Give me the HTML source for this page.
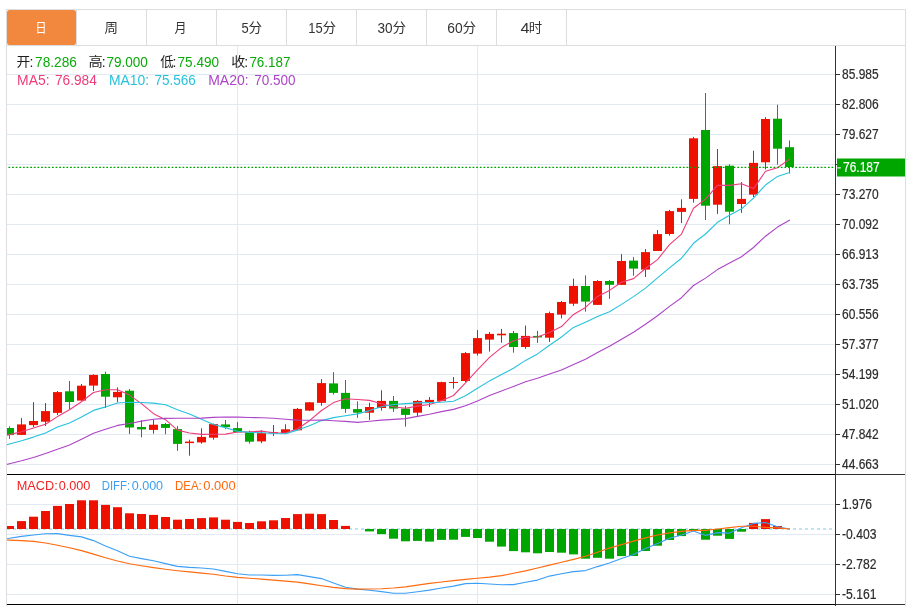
<!DOCTYPE html>
<html lang="zh-CN"><head><meta charset="utf-8"><title>K线图</title>
<style>
html,body{margin:0;padding:0;background:#fff;}
body{width:910px;height:606px;overflow:hidden;position:relative;font-family:"Liberation Sans", "Noto Sans CJK SC", sans-serif;}
svg{position:absolute;left:0;top:0;display:block;}
svg text{font-family:"Liberation Sans", "Noto Sans CJK SC", sans-serif;}
.g{stroke:#e1eaf3;stroke-width:1;shape-rendering:crispEdges;}
.r{fill:#ee1100;stroke:#ee1100;}
.gr{fill:#00a600;stroke:#00a600;}
.w{stroke-width:1;fill:none;}
.l{fill:none;stroke-width:1.1;stroke-linejoin:round;stroke-linecap:round;}
.ax{font-size:14px;}
.tab{font-size:13.5px;fill:#333;text-anchor:middle;}
.t14{font-size:14px;}
</style></head><body>
<svg width="910" height="606" viewBox="0 0 910 606">
<rect x="0" y="0" width="910" height="606" fill="#ffffff"/>
<g shape-rendering="crispEdges">
<rect x="6" y="9" width="900" height="1" fill="#dddddd"/>
<rect x="6" y="9" width="1" height="597" fill="#dddddd"/>
<rect x="905" y="9" width="1" height="597" fill="#dddddd"/>
<rect x="7" y="45" width="898" height="1" fill="#dddddd"/>
<rect x="76" y="10" width="1" height="35" fill="#dddddd"/>
<rect x="146" y="10" width="1" height="35" fill="#dddddd"/>
<rect x="216" y="10" width="1" height="35" fill="#dddddd"/>
<rect x="286" y="10" width="1" height="35" fill="#dddddd"/>
<rect x="356" y="10" width="1" height="35" fill="#dddddd"/>
<rect x="426" y="10" width="1" height="35" fill="#dddddd"/>
<rect x="496" y="10" width="1" height="35" fill="#dddddd"/>
<rect x="566" y="10" width="1" height="35" fill="#dddddd"/>
</g>
<rect x="7" y="10" width="69" height="35" rx="2.5" ry="2.5" fill="#f2883d"/>
<text><tspan x="35.55" y="32.00" fill="#fff" font-size="13.0" textLength="11.00" lengthAdjust="spacingAndGlyphs">日</tspan></text>
<text><tspan x="104.55" y="32.00" fill="#333" font-size="13.0" textLength="13.50" lengthAdjust="spacingAndGlyphs">周</tspan></text>
<text><tspan x="174.55" y="32.00" fill="#333" font-size="13.0" textLength="12.00" lengthAdjust="spacingAndGlyphs">月</tspan></text>
<text><tspan x="241.40" y="33.00" fill="#333" font-size="14" textLength="7.20" lengthAdjust="spacingAndGlyphs">5</tspan><tspan x="248.45" y="32.00" fill="#333" font-size="13.0" textLength="13.60" lengthAdjust="spacingAndGlyphs">分</tspan></text>
<text><tspan x="308.20" y="33.00" fill="#333" font-size="14" textLength="14.40" lengthAdjust="spacingAndGlyphs">15</tspan><tspan x="322.45" y="32.00" fill="#333" font-size="13.0" textLength="13.60" lengthAdjust="spacingAndGlyphs">分</tspan></text>
<text><tspan x="377.50" y="33.00" fill="#333" font-size="14" textLength="15.10" lengthAdjust="spacingAndGlyphs">30</tspan><tspan x="392.45" y="32.00" fill="#333" font-size="13.0" textLength="13.60" lengthAdjust="spacingAndGlyphs">分</tspan></text>
<text><tspan x="447.20" y="33.00" fill="#333" font-size="14" textLength="15.40" lengthAdjust="spacingAndGlyphs">60</tspan><tspan x="462.45" y="32.00" fill="#333" font-size="13.0" textLength="13.60" lengthAdjust="spacingAndGlyphs">分</tspan></text>
<text><tspan x="520.40" y="33.00" fill="#333" font-size="14" textLength="9.00" lengthAdjust="spacingAndGlyphs">4</tspan><tspan x="528.75" y="32.00" fill="#333" font-size="13.0" textLength="13.40" lengthAdjust="spacingAndGlyphs">时</tspan></text>
<g class="g">
<line x1="7" y1="74.5" x2="835" y2="74.5"/>
<line x1="7" y1="104.5" x2="835" y2="104.5"/>
<line x1="7" y1="134.5" x2="835" y2="134.5"/>
<line x1="7" y1="164.5" x2="835" y2="164.5"/>
<line x1="7" y1="194.5" x2="835" y2="194.5"/>
<line x1="7" y1="224.5" x2="835" y2="224.5"/>
<line x1="7" y1="254.5" x2="835" y2="254.5"/>
<line x1="7" y1="284.5" x2="835" y2="284.5"/>
<line x1="7" y1="314.5" x2="835" y2="314.5"/>
<line x1="7" y1="344.5" x2="835" y2="344.5"/>
<line x1="7" y1="374.5" x2="835" y2="374.5"/>
<line x1="7" y1="404.5" x2="835" y2="404.5"/>
<line x1="7" y1="434.5" x2="835" y2="434.5"/>
<line x1="7" y1="464.5" x2="835" y2="464.5"/>
<line x1="7" y1="504.5" x2="835" y2="504.5"/>
<line x1="7" y1="534.5" x2="835" y2="534.5"/>
<line x1="7" y1="564.5" x2="835" y2="564.5"/>
<line x1="7" y1="594.5" x2="835" y2="594.5"/>
<line x1="237.5" y1="46" x2="237.5" y2="604"/>
<line x1="477.5" y1="46" x2="477.5" y2="604"/>
</g>
<line x1="7" y1="529" x2="833" y2="529" stroke="#a9dcec" stroke-width="1.4" stroke-dasharray="3 3"/>
<clipPath id="cp"><rect x="7" y="46" width="828" height="558"/></clipPath>
<g clip-path="url(#cp)">
<line x1="9.5" y1="426.4" x2="9.5" y2="438.9" stroke="#00a600" stroke-width="1"/>
<rect x="5.0" y="428.0" width="9" height="7.1" fill="#00a600"/>
<line x1="21.5" y1="418.1" x2="21.5" y2="434.9" stroke="#ee1100" stroke-width="1"/>
<rect x="17.0" y="424.4" width="9" height="10.5" fill="#ee1100"/>
<line x1="33.5" y1="402.1" x2="33.5" y2="427.1" stroke="#ee1100" stroke-width="1"/>
<rect x="29.0" y="421.0" width="9" height="4.1" fill="#ee1100"/>
<line x1="45.5" y1="403.1" x2="45.5" y2="426.0" stroke="#ee1100" stroke-width="1"/>
<rect x="41.0" y="411.1" width="9" height="10.6" fill="#ee1100"/>
<line x1="57.5" y1="391.0" x2="57.5" y2="415.0" stroke="#ee1100" stroke-width="1"/>
<rect x="53.0" y="392.1" width="9" height="20.8" fill="#ee1100"/>
<line x1="69.5" y1="381.0" x2="69.5" y2="409.3" stroke="#00a600" stroke-width="1"/>
<rect x="65.0" y="391.3" width="9" height="10.7" fill="#00a600"/>
<line x1="81.5" y1="384.0" x2="81.5" y2="400.6" stroke="#ee1100" stroke-width="1"/>
<rect x="77.0" y="385.7" width="9" height="14.9" fill="#ee1100"/>
<line x1="93.5" y1="374.3" x2="93.5" y2="391.0" stroke="#ee1100" stroke-width="1"/>
<rect x="89.0" y="374.9" width="9" height="10.7" fill="#ee1100"/>
<line x1="105.5" y1="371.7" x2="105.5" y2="408.0" stroke="#00a600" stroke-width="1"/>
<rect x="101.0" y="374.0" width="9" height="22.7" fill="#00a600"/>
<line x1="117.5" y1="387.4" x2="117.5" y2="402.3" stroke="#ee1100" stroke-width="1"/>
<rect x="113.0" y="391.9" width="9" height="5.4" fill="#ee1100"/>
<line x1="129.5" y1="389.0" x2="129.5" y2="434.0" stroke="#00a600" stroke-width="1"/>
<rect x="125.0" y="390.7" width="9" height="36.8" fill="#00a600"/>
<line x1="141.5" y1="420.4" x2="141.5" y2="437.4" stroke="#00a600" stroke-width="1"/>
<rect x="137.0" y="427.0" width="9" height="2.4" fill="#00a600"/>
<line x1="153.5" y1="419.6" x2="153.5" y2="433.7" stroke="#ee1100" stroke-width="1"/>
<rect x="149.0" y="424.7" width="9" height="5.2" fill="#ee1100"/>
<line x1="165.5" y1="422.9" x2="165.5" y2="434.3" stroke="#00a600" stroke-width="1"/>
<rect x="161.0" y="424.0" width="9" height="3.9" fill="#00a600"/>
<line x1="177.5" y1="426.1" x2="177.5" y2="450.9" stroke="#00a600" stroke-width="1"/>
<rect x="173.0" y="429.1" width="9" height="14.8" fill="#00a600"/>
<line x1="189.5" y1="439.7" x2="189.5" y2="455.7" stroke="#ee1100" stroke-width="1"/>
<rect x="185.0" y="441.6" width="9" height="1.5" fill="#ee1100"/>
<line x1="201.5" y1="428.3" x2="201.5" y2="443.7" stroke="#ee1100" stroke-width="1"/>
<rect x="197.0" y="436.9" width="9" height="5.5" fill="#ee1100"/>
<line x1="213.5" y1="423.6" x2="213.5" y2="439.7" stroke="#ee1100" stroke-width="1"/>
<rect x="209.0" y="424.1" width="9" height="13.6" fill="#ee1100"/>
<line x1="225.5" y1="420.0" x2="225.5" y2="429.1" stroke="#00a600" stroke-width="1"/>
<rect x="221.0" y="424.4" width="9" height="2.7" fill="#00a600"/>
<line x1="237.5" y1="422.1" x2="237.5" y2="432.3" stroke="#00a600" stroke-width="1"/>
<rect x="233.0" y="428.1" width="9" height="4.2" fill="#00a600"/>
<line x1="249.5" y1="430.6" x2="249.5" y2="443.6" stroke="#00a600" stroke-width="1"/>
<rect x="245.0" y="432.3" width="9" height="9.4" fill="#00a600"/>
<line x1="261.5" y1="430.3" x2="261.5" y2="443.1" stroke="#ee1100" stroke-width="1"/>
<rect x="257.0" y="433.1" width="9" height="8.3" fill="#ee1100"/>
<line x1="273.5" y1="425.0" x2="273.5" y2="436.0" stroke="#ee1100" stroke-width="1"/>
<rect x="269.0" y="432.2" width="9" height="1.0" fill="#ee1100"/>
<line x1="285.5" y1="424.3" x2="285.5" y2="433.1" stroke="#ee1100" stroke-width="1"/>
<rect x="281.0" y="429.3" width="9" height="3.8" fill="#ee1100"/>
<line x1="297.5" y1="408.0" x2="297.5" y2="430.3" stroke="#ee1100" stroke-width="1"/>
<rect x="293.0" y="408.9" width="9" height="21.4" fill="#ee1100"/>
<line x1="309.5" y1="402.0" x2="309.5" y2="410.9" stroke="#ee1100" stroke-width="1"/>
<rect x="305.0" y="402.3" width="9" height="8.3" fill="#ee1100"/>
<line x1="321.5" y1="379.1" x2="321.5" y2="405.7" stroke="#ee1100" stroke-width="1"/>
<rect x="317.0" y="383.1" width="9" height="19.8" fill="#ee1100"/>
<line x1="333.5" y1="372.1" x2="333.5" y2="394.6" stroke="#00a600" stroke-width="1"/>
<rect x="329.0" y="383.4" width="9" height="9.5" fill="#00a600"/>
<line x1="345.5" y1="380.0" x2="345.5" y2="412.9" stroke="#00a600" stroke-width="1"/>
<rect x="341.0" y="392.9" width="9" height="16.0" fill="#00a600"/>
<line x1="357.5" y1="401.4" x2="357.5" y2="417.7" stroke="#00a600" stroke-width="1"/>
<rect x="353.0" y="409.1" width="9" height="3.6" fill="#00a600"/>
<line x1="369.5" y1="402.7" x2="369.5" y2="419.9" stroke="#ee1100" stroke-width="1"/>
<rect x="365.0" y="407.0" width="9" height="5.7" fill="#ee1100"/>
<line x1="381.5" y1="390.3" x2="381.5" y2="410.6" stroke="#ee1100" stroke-width="1"/>
<rect x="377.0" y="400.9" width="9" height="7.1" fill="#ee1100"/>
<line x1="393.5" y1="396.0" x2="393.5" y2="412.0" stroke="#00a600" stroke-width="1"/>
<rect x="389.0" y="400.9" width="9" height="7.7" fill="#00a600"/>
<line x1="405.5" y1="405.9" x2="405.5" y2="426.7" stroke="#00a600" stroke-width="1"/>
<rect x="401.0" y="408.6" width="9" height="6.3" fill="#00a600"/>
<line x1="417.5" y1="400.0" x2="417.5" y2="416.3" stroke="#ee1100" stroke-width="1"/>
<rect x="413.0" y="400.9" width="9" height="11.8" fill="#ee1100"/>
<line x1="429.5" y1="397.0" x2="429.5" y2="407.0" stroke="#ee1100" stroke-width="1"/>
<rect x="425.0" y="399.9" width="9" height="2.1" fill="#ee1100"/>
<line x1="441.5" y1="381.7" x2="441.5" y2="400.9" stroke="#ee1100" stroke-width="1"/>
<rect x="437.0" y="382.1" width="9" height="18.8" fill="#ee1100"/>
<line x1="453.5" y1="377.0" x2="453.5" y2="388.7" stroke="#ee1100" stroke-width="1"/>
<rect x="449.0" y="382.0" width="9" height="1.0" fill="#ee1100"/>
<line x1="465.5" y1="352.0" x2="465.5" y2="382.0" stroke="#ee1100" stroke-width="1"/>
<rect x="461.0" y="353.1" width="9" height="27.9" fill="#ee1100"/>
<line x1="477.5" y1="330.0" x2="477.5" y2="355.6" stroke="#ee1100" stroke-width="1"/>
<rect x="473.0" y="338.1" width="9" height="15.5" fill="#ee1100"/>
<line x1="489.5" y1="332.0" x2="489.5" y2="351.6" stroke="#ee1100" stroke-width="1"/>
<rect x="485.0" y="333.9" width="9" height="5.7" fill="#ee1100"/>
<line x1="501.5" y1="328.9" x2="501.5" y2="342.7" stroke="#ee1100" stroke-width="1"/>
<rect x="497.0" y="333.7" width="9" height="1.6" fill="#ee1100"/>
<line x1="513.5" y1="331.0" x2="513.5" y2="352.7" stroke="#00a600" stroke-width="1"/>
<rect x="509.0" y="333.1" width="9" height="13.9" fill="#00a600"/>
<line x1="525.5" y1="325.6" x2="525.5" y2="348.9" stroke="#ee1100" stroke-width="1"/>
<rect x="521.0" y="335.9" width="9" height="11.1" fill="#ee1100"/>
<line x1="537.5" y1="330.9" x2="537.5" y2="342.9" stroke="#00a600" stroke-width="1"/>
<rect x="533.0" y="335.9" width="9" height="1.5" fill="#00a600"/>
<line x1="549.5" y1="311.6" x2="549.5" y2="342.0" stroke="#ee1100" stroke-width="1"/>
<rect x="545.0" y="313.1" width="9" height="24.6" fill="#ee1100"/>
<line x1="561.5" y1="301.0" x2="561.5" y2="318.4" stroke="#ee1100" stroke-width="1"/>
<rect x="557.0" y="302.0" width="9" height="12.6" fill="#ee1100"/>
<line x1="573.5" y1="278.7" x2="573.5" y2="305.9" stroke="#ee1100" stroke-width="1"/>
<rect x="569.0" y="285.9" width="9" height="17.8" fill="#ee1100"/>
<line x1="585.5" y1="275.3" x2="585.5" y2="311.7" stroke="#00a600" stroke-width="1"/>
<rect x="581.0" y="286.0" width="9" height="15.6" fill="#00a600"/>
<line x1="597.5" y1="280.1" x2="597.5" y2="304.9" stroke="#ee1100" stroke-width="1"/>
<rect x="593.0" y="281.0" width="9" height="23.9" fill="#ee1100"/>
<line x1="609.5" y1="280.0" x2="609.5" y2="298.9" stroke="#00a600" stroke-width="1"/>
<rect x="605.0" y="281.0" width="9" height="3.8" fill="#00a600"/>
<line x1="621.5" y1="254.1" x2="621.5" y2="284.9" stroke="#ee1100" stroke-width="1"/>
<rect x="617.0" y="261.0" width="9" height="23.9" fill="#ee1100"/>
<line x1="633.5" y1="257.1" x2="633.5" y2="275.7" stroke="#00a600" stroke-width="1"/>
<rect x="629.0" y="260.6" width="9" height="8.0" fill="#00a600"/>
<line x1="645.5" y1="249.1" x2="645.5" y2="277.0" stroke="#ee1100" stroke-width="1"/>
<rect x="641.0" y="252.1" width="9" height="17.5" fill="#ee1100"/>
<line x1="657.5" y1="230.0" x2="657.5" y2="251.0" stroke="#ee1100" stroke-width="1"/>
<rect x="653.0" y="234.1" width="9" height="16.9" fill="#ee1100"/>
<line x1="669.5" y1="210.0" x2="669.5" y2="235.7" stroke="#ee1100" stroke-width="1"/>
<rect x="665.0" y="211.1" width="9" height="22.9" fill="#ee1100"/>
<line x1="681.5" y1="199.3" x2="681.5" y2="223.1" stroke="#ee1100" stroke-width="1"/>
<rect x="677.0" y="207.9" width="9" height="4.0" fill="#ee1100"/>
<line x1="693.5" y1="136.9" x2="693.5" y2="202.6" stroke="#ee1100" stroke-width="1"/>
<rect x="689.0" y="138.3" width="9" height="60.6" fill="#ee1100"/>
<line x1="705.5" y1="93.0" x2="705.5" y2="220.0" stroke="#00a600" stroke-width="1"/>
<rect x="701.0" y="130.0" width="9" height="75.7" fill="#00a600"/>
<line x1="717.5" y1="149.0" x2="717.5" y2="213.9" stroke="#ee1100" stroke-width="1"/>
<rect x="713.0" y="166.1" width="9" height="38.6" fill="#ee1100"/>
<line x1="729.5" y1="164.3" x2="729.5" y2="224.3" stroke="#00a600" stroke-width="1"/>
<rect x="725.0" y="165.7" width="9" height="46.0" fill="#00a600"/>
<line x1="741.5" y1="182.1" x2="741.5" y2="212.9" stroke="#ee1100" stroke-width="1"/>
<rect x="737.0" y="198.9" width="9" height="5.1" fill="#ee1100"/>
<line x1="753.5" y1="150.7" x2="753.5" y2="197.1" stroke="#ee1100" stroke-width="1"/>
<rect x="749.0" y="162.9" width="9" height="31.7" fill="#ee1100"/>
<line x1="765.5" y1="117.1" x2="765.5" y2="169.3" stroke="#ee1100" stroke-width="1"/>
<rect x="761.0" y="119.0" width="9" height="43.3" fill="#ee1100"/>
<line x1="777.5" y1="104.7" x2="777.5" y2="164.7" stroke="#00a600" stroke-width="1"/>
<rect x="773.0" y="118.7" width="9" height="30.0" fill="#00a600"/>
<line x1="789.5" y1="140.4" x2="789.5" y2="173.5" stroke="#00a600" stroke-width="1"/>
<rect x="785.0" y="147.2" width="9" height="19.8" fill="#00a600"/>
<rect x="5.0" y="526.0" width="9" height="3.0" fill="#ee1100"/>
<rect x="17.0" y="521.1" width="9" height="7.9" fill="#ee1100"/>
<rect x="29.0" y="516.7" width="9" height="12.3" fill="#ee1100"/>
<rect x="41.0" y="511.0" width="9" height="18.0" fill="#ee1100"/>
<rect x="53.0" y="505.9" width="9" height="23.1" fill="#ee1100"/>
<rect x="65.0" y="504.0" width="9" height="25.0" fill="#ee1100"/>
<rect x="77.0" y="500.3" width="9" height="28.7" fill="#ee1100"/>
<rect x="89.0" y="500.3" width="9" height="28.7" fill="#ee1100"/>
<rect x="101.0" y="504.9" width="9" height="24.1" fill="#ee1100"/>
<rect x="113.0" y="507.2" width="9" height="21.8" fill="#ee1100"/>
<rect x="125.0" y="513.3" width="9" height="15.7" fill="#ee1100"/>
<rect x="137.0" y="514.0" width="9" height="15.0" fill="#ee1100"/>
<rect x="149.0" y="514.9" width="9" height="14.1" fill="#ee1100"/>
<rect x="161.0" y="517.0" width="9" height="12.0" fill="#ee1100"/>
<rect x="173.0" y="519.7" width="9" height="9.3" fill="#ee1100"/>
<rect x="185.0" y="519.0" width="9" height="10.0" fill="#ee1100"/>
<rect x="197.0" y="518.1" width="9" height="10.9" fill="#ee1100"/>
<rect x="209.0" y="517.4" width="9" height="11.6" fill="#ee1100"/>
<rect x="221.0" y="519.7" width="9" height="9.3" fill="#ee1100"/>
<rect x="233.0" y="521.9" width="9" height="7.1" fill="#ee1100"/>
<rect x="245.0" y="523.0" width="9" height="6.0" fill="#ee1100"/>
<rect x="257.0" y="521.3" width="9" height="7.7" fill="#ee1100"/>
<rect x="269.0" y="520.3" width="9" height="8.7" fill="#ee1100"/>
<rect x="281.0" y="518.0" width="9" height="11.0" fill="#ee1100"/>
<rect x="293.0" y="514.1" width="9" height="14.9" fill="#ee1100"/>
<rect x="305.0" y="513.7" width="9" height="15.3" fill="#ee1100"/>
<rect x="317.0" y="514.1" width="9" height="14.9" fill="#ee1100"/>
<rect x="329.0" y="520.0" width="9" height="9.0" fill="#ee1100"/>
<rect x="341.0" y="525.9" width="9" height="3.1" fill="#ee1100"/>
<rect x="365.0" y="529" width="9" height="2.4" fill="#00a600"/>
<rect x="377.0" y="529" width="9" height="5.1" fill="#00a600"/>
<rect x="389.0" y="529" width="9" height="9.7" fill="#00a600"/>
<rect x="401.0" y="529" width="9" height="12.3" fill="#00a600"/>
<rect x="413.0" y="529" width="9" height="11.9" fill="#00a600"/>
<rect x="425.0" y="529" width="9" height="12.6" fill="#00a600"/>
<rect x="437.0" y="529" width="9" height="10.9" fill="#00a600"/>
<rect x="449.0" y="529" width="9" height="10.7" fill="#00a600"/>
<rect x="461.0" y="529" width="9" height="7.9" fill="#00a600"/>
<rect x="473.0" y="529" width="9" height="9.0" fill="#00a600"/>
<rect x="485.0" y="529" width="9" height="12.7" fill="#00a600"/>
<rect x="497.0" y="529" width="9" height="17.6" fill="#00a600"/>
<rect x="509.0" y="529" width="9" height="22.1" fill="#00a600"/>
<rect x="521.0" y="529" width="9" height="23.3" fill="#00a600"/>
<rect x="533.0" y="529" width="9" height="24.3" fill="#00a600"/>
<rect x="545.0" y="529" width="9" height="23.0" fill="#00a600"/>
<rect x="557.0" y="529" width="9" height="23.7" fill="#00a600"/>
<rect x="569.0" y="529" width="9" height="25.4" fill="#00a600"/>
<rect x="581.0" y="529" width="9" height="29.7" fill="#00a600"/>
<rect x="593.0" y="529" width="9" height="28.8" fill="#00a600"/>
<rect x="605.0" y="529" width="9" height="29.7" fill="#00a600"/>
<rect x="617.0" y="529" width="9" height="27.1" fill="#00a600"/>
<rect x="629.0" y="529" width="9" height="27.0" fill="#00a600"/>
<rect x="641.0" y="529" width="9" height="22.0" fill="#00a600"/>
<rect x="653.0" y="529" width="9" height="16.7" fill="#00a600"/>
<rect x="665.0" y="529" width="9" height="11.0" fill="#00a600"/>
<rect x="677.0" y="529" width="9" height="7.1" fill="#00a600"/>
<rect x="689.0" y="529" width="9" height="1.4" fill="#00a600"/>
<rect x="701.0" y="529" width="9" height="10.7" fill="#00a600"/>
<rect x="713.0" y="529" width="9" height="6.7" fill="#00a600"/>
<rect x="725.0" y="529" width="9" height="9.9" fill="#00a600"/>
<rect x="737.0" y="529" width="9" height="2.7" fill="#00a600"/>
<rect x="749.0" y="522.9" width="9" height="6.1" fill="#ee1100"/>
<rect x="761.0" y="519.1" width="9" height="9.9" fill="#ee1100"/>
<rect x="773.0" y="526.0" width="9" height="3.0" fill="#ee1100"/>
<polyline class="l" points="-2.5,437.5 9.5,434.6 21.5,431.7 33.5,427.9 45.5,424.3 57.5,416.6 69.5,409.8 81.5,401.8 93.5,392.5 105.5,389.7 117.5,389.8 129.5,395.1 141.5,403.6 153.5,413.7 165.5,419.7 177.5,430.1 189.5,433.0 201.5,434.4 213.5,434.3 225.5,434.1 237.5,432.0 249.5,431.9 261.5,431.1 273.5,432.7 285.5,433.0 297.5,428.7 309.5,420.7 321.5,410.5 333.5,402.6 345.5,398.8 357.5,399.5 369.5,400.4 381.5,403.7 393.5,406.8 405.5,408.3 417.5,406.1 429.5,404.5 441.5,400.7 453.5,395.5 465.5,382.9 477.5,369.8 489.5,357.4 501.5,347.6 513.5,340.7 525.5,337.2 537.5,337.0 549.5,332.6 561.5,326.6 573.5,314.4 585.5,307.4 597.5,296.4 609.5,290.4 621.5,282.2 633.5,278.6 645.5,268.5 657.5,259.6 669.5,244.7 681.5,234.1 693.5,208.2 705.5,199.1 717.5,185.3 729.5,185.4 741.5,183.8 753.5,188.6 765.5,171.3 777.5,167.8 789.5,159.1" stroke="#ee3c7b"/>
<polyline class="l" points="-2.5,447.3 9.5,444.0 21.5,440.7 33.5,437.1 45.5,432.9 57.5,427.1 69.5,422.9 81.5,417.1 93.5,410.4 105.5,406.9 117.5,403.0 129.5,402.3 141.5,402.5 153.5,403.1 165.5,404.8 177.5,409.8 189.5,413.9 201.5,419.3 213.5,424.5 225.5,427.6 237.5,431.2 249.5,432.4 261.5,432.7 273.5,433.5 285.5,433.8 297.5,430.1 309.5,425.8 321.5,420.6 333.5,417.6 345.5,415.8 357.5,413.9 369.5,410.6 381.5,406.8 393.5,404.5 405.5,403.6 417.5,402.9 429.5,402.6 441.5,402.2 453.5,401.3 465.5,395.8 477.5,388.3 489.5,380.9 501.5,374.6 513.5,368.2 525.5,360.4 537.5,353.9 549.5,345.2 561.5,337.0 573.5,327.4 585.5,322.2 597.5,316.4 609.5,311.7 621.5,304.4 633.5,296.6 645.5,288.1 657.5,277.8 669.5,267.9 681.5,258.2 693.5,243.3 705.5,234.0 717.5,222.3 729.5,215.3 741.5,208.8 753.5,198.1 765.5,185.0 777.5,176.4 789.5,172.4" stroke="#27c2dc"/>
<polyline class="l" points="-2.5,466.8 9.5,463.8 21.5,460.8 33.5,457.5 45.5,453.6 57.5,449.3 69.5,445.0 81.5,439.3 93.5,433.3 105.5,429.3 117.5,425.4 129.5,423.5 141.5,421.1 153.5,419.3 165.5,418.4 177.5,418.3 189.5,418.3 201.5,418.1 213.5,417.4 225.5,417.0 237.5,417.1 249.5,417.5 261.5,417.8 273.5,418.3 285.5,419.2 297.5,420.1 309.5,420.2 321.5,420.0 333.5,420.7 345.5,421.4 357.5,422.4 369.5,421.3 381.5,420.1 393.5,419.4 405.5,418.6 417.5,416.4 429.5,414.2 441.5,411.6 453.5,409.4 465.5,405.7 477.5,401.0 489.5,395.6 501.5,390.9 513.5,386.4 525.5,381.7 537.5,378.3 549.5,373.9 561.5,369.9 573.5,364.5 585.5,359.3 597.5,352.6 609.5,346.3 621.5,339.3 633.5,332.3 645.5,324.2 657.5,315.8 669.5,306.4 681.5,297.7 693.5,285.5 705.5,278.1 717.5,269.6 729.5,263.1 741.5,256.7 753.5,247.5 765.5,236.2 777.5,227.1 789.5,220.2" stroke="#ad44c7"/>
<polyline class="l" points="-2.5,540.2 9.5,538.3 21.5,536.4 33.5,535.0 45.5,533.7 57.5,533.6 69.5,535.4 81.5,536.9 93.5,540.6 105.5,546.0 117.5,550.7 129.5,556.3 141.5,558.6 153.5,560.7 165.5,563.6 177.5,566.4 189.5,567.4 201.5,568.0 213.5,569.0 225.5,571.4 237.5,573.7 249.5,575.0 261.5,575.0 273.5,575.4 285.5,575.3 297.5,574.6 309.5,576.6 321.5,578.6 333.5,583.0 345.5,587.3 357.5,589.1 369.5,590.2 381.5,591.6 393.5,593.3 405.5,593.3 417.5,591.7 429.5,590.1 441.5,588.0 453.5,586.1 465.5,583.6 477.5,583.3 489.5,584.0 501.5,584.7 513.5,584.6 525.5,582.3 537.5,580.1 549.5,576.1 561.5,573.7 573.5,571.6 585.5,570.6 597.5,566.6 609.5,563.0 621.5,558.6 633.5,554.6 645.5,548.6 657.5,543.6 669.5,538.3 681.5,535.0 693.5,531.1 705.5,535.4 717.5,532.6 729.5,533.1 741.5,527.7 753.5,523.4 765.5,522.6 777.5,526.7 789.5,529.0" stroke="#3b9ff6"/>
<polyline class="l" points="-2.5,539.6 9.5,540.1 21.5,540.6 33.5,541.4 45.5,543.0 57.5,545.3 69.5,547.7 81.5,550.6 93.5,554.1 105.5,557.7 117.5,561.0 129.5,563.8 141.5,565.7 153.5,567.6 165.5,569.3 177.5,570.7 189.5,571.9 201.5,573.1 213.5,574.3 225.5,576.0 237.5,577.4 249.5,578.2 261.5,579.1 273.5,580.1 285.5,581.1 297.5,582.1 309.5,583.9 321.5,585.7 333.5,587.4 345.5,588.6 357.5,589.1 369.5,589.0 381.5,588.7 393.5,588.0 405.5,586.9 417.5,585.1 429.5,583.4 441.5,582.0 453.5,580.6 465.5,579.4 477.5,578.3 489.5,577.1 501.5,575.6 513.5,573.3 525.5,570.9 537.5,568.0 549.5,565.1 561.5,562.3 573.5,559.4 585.5,556.3 597.5,552.3 609.5,548.1 621.5,544.6 633.5,541.1 645.5,537.9 657.5,535.0 669.5,532.9 681.5,531.4 693.5,530.4 705.5,530.4 717.5,529.0 729.5,527.6 741.5,526.3 753.5,526.3 765.5,527.4 777.5,527.9 789.5,529.0" stroke="#ff6a0f"/>
</g>
<line x1="8.42" y1="167.45" x2="833.3" y2="167.45" stroke="#00a600" stroke-width="1.3" stroke-dasharray="1.8 1.826"/>
<g shape-rendering="crispEdges">
<rect x="7" y="474" width="828" height="1" fill="#000"/>
<rect x="835" y="474" width="70" height="1" fill="#333333"/>
<rect x="7" y="604" width="828" height="1" fill="#000"/>
<rect x="835" y="604" width="70" height="1" fill="#333333"/>
<rect x="835" y="46" width="1" height="560" fill="#333333"/>
<rect x="836" y="74" width="4" height="1" fill="#333333"/>
<rect x="836" y="104" width="4" height="1" fill="#333333"/>
<rect x="836" y="134" width="4" height="1" fill="#333333"/>
<rect x="836" y="164" width="4" height="1" fill="#333333"/>
<rect x="836" y="194" width="4" height="1" fill="#333333"/>
<rect x="836" y="224" width="4" height="1" fill="#333333"/>
<rect x="836" y="254" width="4" height="1" fill="#333333"/>
<rect x="836" y="284" width="4" height="1" fill="#333333"/>
<rect x="836" y="314" width="4" height="1" fill="#333333"/>
<rect x="836" y="344" width="4" height="1" fill="#333333"/>
<rect x="836" y="374" width="4" height="1" fill="#333333"/>
<rect x="836" y="404" width="4" height="1" fill="#333333"/>
<rect x="836" y="434" width="4" height="1" fill="#333333"/>
<rect x="836" y="464" width="4" height="1" fill="#333333"/>
<rect x="836" y="504" width="4" height="1" fill="#333333"/>
<rect x="836" y="534" width="4" height="1" fill="#333333"/>
<rect x="836" y="564" width="4" height="1" fill="#333333"/>
<rect x="836" y="594" width="4" height="1" fill="#333333"/>
</g>
<text class="ax" x="842.0" y="78.6" fill="#2b2b2b" stroke="#2b2b2b" stroke-width="0.2" textLength="36.60" lengthAdjust="spacingAndGlyphs">85.985</text>
<text class="ax" x="842.0" y="108.6" fill="#2b2b2b" stroke="#2b2b2b" stroke-width="0.2" textLength="36.60" lengthAdjust="spacingAndGlyphs">82.806</text>
<text class="ax" x="842.0" y="138.6" fill="#2b2b2b" stroke="#2b2b2b" stroke-width="0.2" textLength="36.60" lengthAdjust="spacingAndGlyphs">79.627</text>
<text class="ax" x="842.0" y="198.6" fill="#2b2b2b" stroke="#2b2b2b" stroke-width="0.2" textLength="36.60" lengthAdjust="spacingAndGlyphs">73.270</text>
<text class="ax" x="842.0" y="228.6" fill="#2b2b2b" stroke="#2b2b2b" stroke-width="0.2" textLength="36.60" lengthAdjust="spacingAndGlyphs">70.092</text>
<text class="ax" x="842.0" y="258.6" fill="#2b2b2b" stroke="#2b2b2b" stroke-width="0.2" textLength="36.60" lengthAdjust="spacingAndGlyphs">66.913</text>
<text class="ax" x="842.0" y="288.6" fill="#2b2b2b" stroke="#2b2b2b" stroke-width="0.2" textLength="36.60" lengthAdjust="spacingAndGlyphs">63.735</text>
<text class="ax" x="842.0" y="318.6" fill="#2b2b2b" stroke="#2b2b2b" stroke-width="0.2" textLength="36.60" lengthAdjust="spacingAndGlyphs">60.556</text>
<text class="ax" x="842.0" y="348.6" fill="#2b2b2b" stroke="#2b2b2b" stroke-width="0.2" textLength="36.60" lengthAdjust="spacingAndGlyphs">57.377</text>
<text class="ax" x="842.0" y="378.6" fill="#2b2b2b" stroke="#2b2b2b" stroke-width="0.2" textLength="36.60" lengthAdjust="spacingAndGlyphs">54.199</text>
<text class="ax" x="842.0" y="408.6" fill="#2b2b2b" stroke="#2b2b2b" stroke-width="0.2" textLength="36.60" lengthAdjust="spacingAndGlyphs">51.020</text>
<text class="ax" x="842.0" y="438.6" fill="#2b2b2b" stroke="#2b2b2b" stroke-width="0.2" textLength="36.60" lengthAdjust="spacingAndGlyphs">47.842</text>
<text class="ax" x="842.0" y="468.6" fill="#2b2b2b" stroke="#2b2b2b" stroke-width="0.2" textLength="36.60" lengthAdjust="spacingAndGlyphs">44.663</text>
<text class="ax" x="842.0" y="508.6" fill="#2b2b2b" stroke="#2b2b2b" stroke-width="0.2" textLength="30.02" lengthAdjust="spacingAndGlyphs">1.976</text>
<text class="ax" x="842.0" y="538.6" fill="#2b2b2b" stroke="#2b2b2b" stroke-width="0.2" textLength="34.38" lengthAdjust="spacingAndGlyphs">-0.403</text>
<text class="ax" x="842.0" y="568.6" fill="#2b2b2b" stroke="#2b2b2b" stroke-width="0.2" textLength="34.38" lengthAdjust="spacingAndGlyphs">-2.782</text>
<text class="ax" x="842.0" y="598.6" fill="#2b2b2b" stroke="#2b2b2b" stroke-width="0.2" textLength="34.38" lengthAdjust="spacingAndGlyphs">-5.161</text>
<rect x="837" y="158.5" width="68" height="18" fill="#00a600"/>
<rect x="837.3" y="167.1" width="3.5" height="1.5" fill="#bfe3bf"/>
<text class="ax" x="843.0" y="171.7" fill="#fff" stroke="#fff" stroke-width="0.2" textLength="36.60" lengthAdjust="spacingAndGlyphs">76.187</text>
<text><tspan x="16.40" y="66.00" fill="#1f1f1f" font-size="13.0" textLength="13.75" lengthAdjust="spacingAndGlyphs">开</tspan><tspan x="29.40" y="67.00" fill="#1f1f1f" font-size="14">:</tspan><tspan x="35.1" y="67.0" fill="#0aaa0a" font-size="14" textLength="41.8" lengthAdjust="spacingAndGlyphs">78.286</tspan></text>
<text><tspan x="88.55" y="66.00" fill="#1f1f1f" font-size="13.0" textLength="14.30" lengthAdjust="spacingAndGlyphs">高</tspan><tspan x="101.70" y="67.00" fill="#1f1f1f" font-size="14">:</tspan><tspan x="106.4" y="67.0" fill="#0aaa0a" font-size="14" textLength="41.5" lengthAdjust="spacingAndGlyphs">79.000</tspan></text>
<text><tspan x="160.15" y="66.00" fill="#1f1f1f" font-size="13.0" textLength="13.40" lengthAdjust="spacingAndGlyphs">低</tspan><tspan x="172.60" y="67.00" fill="#1f1f1f" font-size="14">:</tspan><tspan x="177.6" y="67.0" fill="#0aaa0a" font-size="14" textLength="41.4" lengthAdjust="spacingAndGlyphs">75.490</tspan></text>
<text><tspan x="231.35" y="66.00" fill="#1f1f1f" font-size="13.0" textLength="14.00" lengthAdjust="spacingAndGlyphs">收</tspan><tspan x="244.20" y="67.00" fill="#1f1f1f" font-size="14">:</tspan><tspan x="249.4" y="67.0" fill="#0aaa0a" font-size="14" textLength="41.0" lengthAdjust="spacingAndGlyphs">76.187</tspan></text>
<text><tspan x="17.1" y="85.0" fill="#ee3c7b" font-size="14" textLength="32.5" lengthAdjust="spacingAndGlyphs">MA5:</tspan><tspan x="54.9" y="85.0" fill="#ee3c7b" font-size="14" textLength="41.9" lengthAdjust="spacingAndGlyphs">76.984</tspan></text>
<text><tspan x="108.9" y="85.0" fill="#27c2dc" font-size="14" textLength="40.2" lengthAdjust="spacingAndGlyphs">MA10:</tspan><tspan x="154.5" y="85.0" fill="#27c2dc" font-size="14" textLength="41.4" lengthAdjust="spacingAndGlyphs">75.566</tspan></text>
<text><tspan x="208.2" y="85.0" fill="#ad44c7" font-size="14" textLength="40.4" lengthAdjust="spacingAndGlyphs">MA20:</tspan><tspan x="254.2" y="85.0" fill="#ad44c7" font-size="14" textLength="41.4" lengthAdjust="spacingAndGlyphs">70.500</tspan></text>
<text><tspan x="16.7" y="490.0" fill="#f02222" font-size="12.5" textLength="41.1" lengthAdjust="spacingAndGlyphs">MACD:</tspan><tspan x="58.7" y="490.0" fill="#f02222" font-size="12.5" textLength="31.7" lengthAdjust="spacingAndGlyphs">0.000</tspan></text>
<text><tspan x="101.7" y="490.0" fill="#3b9ff6" font-size="12.5" textLength="28.4" lengthAdjust="spacingAndGlyphs">DIFF:</tspan><tspan x="131.7" y="490.0" fill="#3b9ff6" font-size="12.5" textLength="31.4" lengthAdjust="spacingAndGlyphs">0.000</tspan></text>
<text><tspan x="174.9" y="490.0" fill="#ff6a0f" font-size="12.5" textLength="26.9" lengthAdjust="spacingAndGlyphs">DEA:</tspan><tspan x="203.2" y="490.0" fill="#ff6a0f" font-size="12.5" textLength="32.4" lengthAdjust="spacingAndGlyphs">0.000</tspan></text>
</svg>
</body></html>
